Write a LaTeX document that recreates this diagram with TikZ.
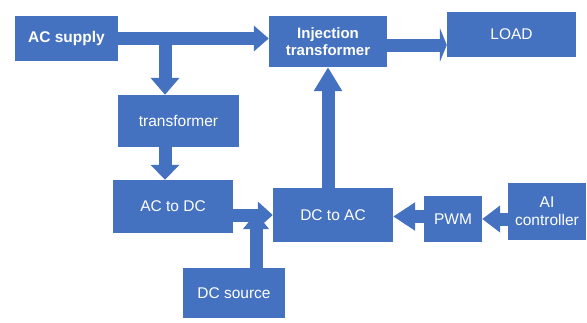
\documentclass[tikz,border=0pt]{standalone}
\usepackage{fontspec}
\setmainfont{Liberation Sans}
\usepackage{tikz}
\usetikzlibrary{arrows.meta}
\usetikzlibrary{calc}

\definecolor{boxblue}{RGB}{68,114,192}

\begin{document}
\begin{tikzpicture}[
	x=1pt, y=-1pt,
  > = {Triangle[length=16pt,width=27pt]},
  blk/.style = {fill=boxblue,text=white,inner sep=0pt,align=center,font=\fontsize{15.5}{18}\selectfont},
  fat/.style = {draw=boxblue,line width=13pt}
  ]
	\useasboundingbox (0,0) rectangle (587,322);

	\node[blk,minimum width=103pt,minimum height=45pt,font=\fontsize{15.5}{18}\selectfont\bfseries] (acsup) at (66.5,38.5) {AC supply};
	\node[blk,minimum width=118pt,minimum height=51pt,font=\fontsize{15}{17}\selectfont\bfseries] (inj) at (328,41.5) {Injection\\transformer};
	\node[blk,minimum width=129pt,minimum height=45pt] (load) at (511.5,34.5) {LOAD};
	\node[blk,minimum width=121pt,minimum height=52pt] (trf) at (178.5,121) {transformer};
	\node[blk,minimum width=120pt,minimum height=53pt] (acdc) at (173,206.5) {AC to DC};
	\node[blk,minimum width=120pt,minimum height=54pt] (dcac) at (333,215) {DC to AC};
	\node[blk,minimum width=102pt,minimum height=50pt] (dcsrc) at (234,293) {DC source};
	\node[blk,minimum width=58pt,minimum height=46pt] (pwm) at (453,219) {PWM};
	\node[blk,minimum width=78pt,minimum height=57pt] (ai) at (547,211.5) {AI\\controller};

	\coordinate (split) at (165,38.5);
	\coordinate (meet) at (256,213);

	\draw[fat,->,>={Triangle[length=15pt,width=25pt]}] (acsup.east) -- (acsup.east -| inj.west);
	\draw[fat,->,>={Triangle[length=17pt,width=28pt]}] (split) -- (split |- trf.north);
	\draw[fat,->,>={Triangle[length=15pt,width=28pt]}] (trf.south -| split) -- (split |- acdc.north);
	\draw[fat,->,>={Triangle[length=15pt,width=26pt]}] (acdc.east |- dcac) -- (dcac.west);
	\draw[fat,->,>={Triangle[length=16pt,width=25pt]}] (dcsrc.north -| meet) -- (meet);
	\draw[fat,->,>={Triangle[length=24pt,width=27pt]}] (inj.south |- dcac.north) -- (inj.south);
	\draw[fat,->,>={Triangle[length=7pt,width=34pt]}] ([yshift=-3.5pt]inj.east) -- ([yshift=-3.5pt]inj.east -| load.west);
	\draw[fat,->,>={Triangle[length=22pt,width=27pt]}] ([yshift=2.5pt]pwm.west) -- ([yshift=2.5pt]pwm.west -| dcac.east);
	\draw[fat,->,>={Triangle[length=18pt,width=26pt]}] (ai.west |- pwm) -- (pwm.east);

\end{tikzpicture}
\end{document}
